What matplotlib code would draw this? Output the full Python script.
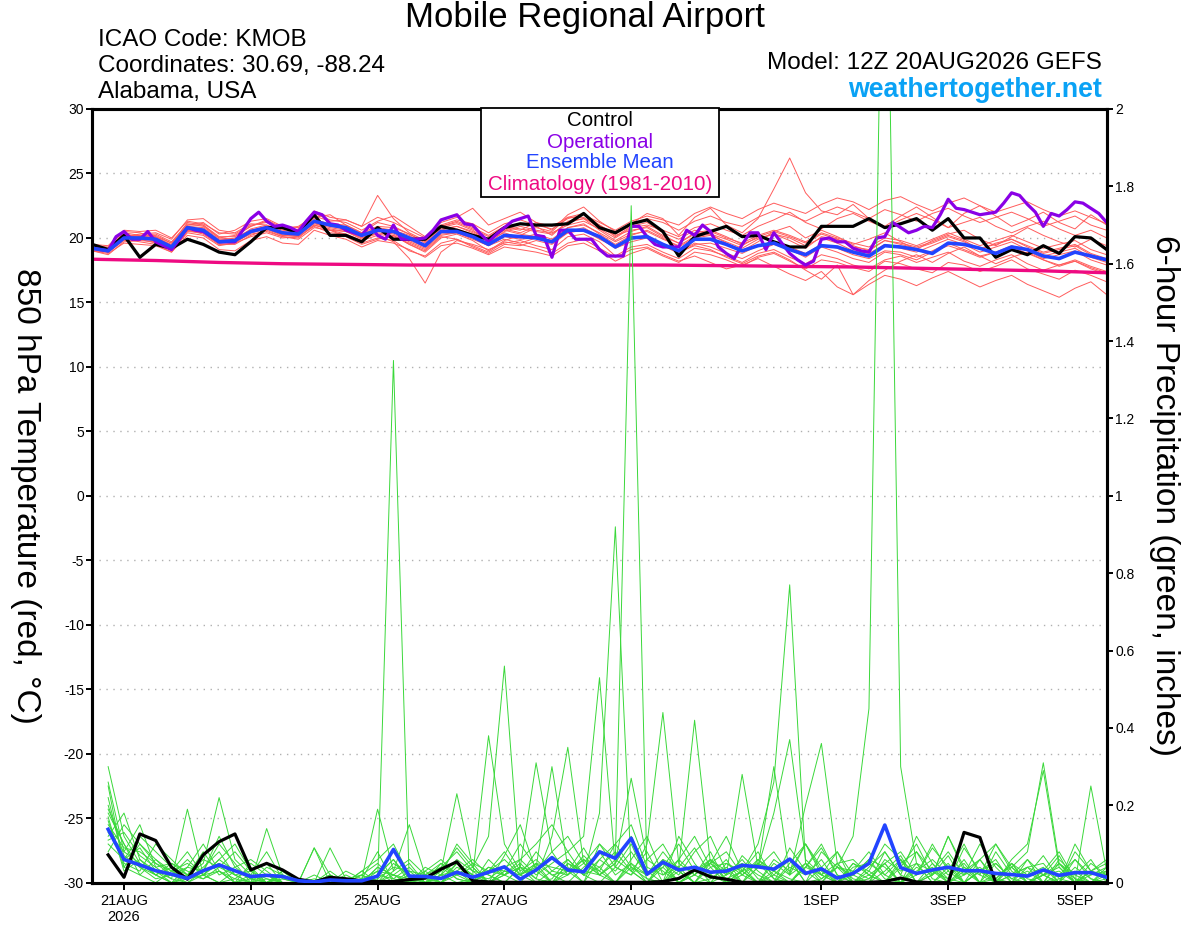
import matplotlib
matplotlib.use('Agg')
import matplotlib.pyplot as plt
from matplotlib.patches import Rectangle
import numpy as np

plt.rcParams['font.family'] = ['Liberation Sans', 'DejaVu Sans']
plt.rcParams['axes.unicode_minus'] = False

RED_M = '#ff5c5c'
GREEN_M = '#3ad83a'
PURPLE = '#8a00e6'
BLUE = '#2244ff'
PINK = '#ee0a82'
WEB = '#0aa2f5'

# ---- time axis (GEFS 12Z 20AUG2026 run, 6-hourly, op 3-hourly) ----
t0 = np.datetime64('2026-08-20T12:00')
t6 = t0 + np.arange(65) * np.timedelta64(6, 'h')
t3 = t0 + np.arange(129) * np.timedelta64(3, 'h')
t24 = t0 + np.arange(17) * np.timedelta64(24, 'h')

tick_dates = ['2026-08-21', '2026-08-23', '2026-08-25', '2026-08-27',
              '2026-08-29', '2026-09-01', '2026-09-03', '2026-09-05']
tick_labels = ['21AUG\n2026', '23AUG', '25AUG', '27AUG', '29AUG', '1SEP', '3SEP', '5SEP']

# ---- 850 hPa temperature (C) ----
t_control = [19.5, 19.1, 20.2, 18.5, 19.5, 19.2, 19.9, 19.5, 18.9, 18.7, 19.7, 20.8, 20.8,
             20.4, 21.8, 20.2, 20.2, 19.7, 20.8, 19.9, 19.9, 19.9, 20.9, 20.6, 20.2, 19.9,
             20.8, 21.1, 21.0, 21.0, 21.1, 21.9, 20.8, 20.4, 21.1, 21.4, 20.5, 18.6, 20.1,
             20.5, 20.9, 20.1, 20.2, 19.7, 19.3, 19.3, 20.9, 20.9, 20.9, 21.5, 20.8, 21.1,
             21.5, 20.6, 21.5, 20.0, 20.0, 18.5, 19.1, 18.7, 19.4, 18.8, 20.1, 20.0, 19.1]

t_mean = [19.2, 19.0, 20.0, 20.0, 19.9, 19.3, 20.8, 20.6, 19.7, 19.8, 20.5, 20.8, 20.4,
          20.3, 21.3, 21.0, 20.8, 20.2, 20.6, 20.5, 20.0, 19.4, 20.5, 20.5, 20.1, 19.5,
          20.2, 20.1, 20.0, 19.7, 20.6, 20.6, 20.1, 19.3, 20.0, 20.1, 19.5, 19.0, 19.9,
          19.9, 19.5, 19.0, 19.4, 19.6, 19.1, 18.7, 19.4, 19.3, 18.9, 18.6, 19.4, 19.3,
          19.1, 18.8, 19.6, 19.5, 19.2, 18.8, 19.3, 19.1, 18.6, 18.4, 18.9, 18.6, 18.3]

t_oper = [19.2, 19.1, 19.0, 20.1, 20.5, 19.9, 19.9, 20.5, 19.7, 19.4, 19.1, 19.9, 20.8,
          20.6, 20.5, 20.1, 19.7, 19.7, 19.7, 20.6, 21.5, 22.0, 21.3, 20.9, 21.0, 20.8,
          20.5, 21.3, 22.0, 21.8, 21.1, 21.0, 20.6, 20.4, 20.2, 21.0, 20.2, 19.9, 21.0,
          19.9, 19.9, 19.9, 20.0, 20.6, 21.4, 21.6, 21.8, 21.1, 21.0, 20.3, 19.7, 20.3,
          20.8, 21.3, 21.5, 21.7, 20.2, 20.1, 18.5, 20.6, 20.6, 19.9, 19.9, 19.9, 19.1,
          18.6, 18.6, 18.6, 20.9, 20.9, 20.1, 19.5, 19.3, 19.3, 19.3, 20.6, 20.2, 21.0,
          20.5, 19.3, 18.8, 18.4, 19.5, 20.4, 20.4, 19.1, 20.4, 19.6, 18.8, 18.3, 17.9,
          18.2, 19.9, 20.0, 19.7, 19.7, 19.2, 19.0, 18.9, 20.0, 20.1, 21.2, 20.8, 20.4,
          20.6, 20.9, 20.8, 21.8, 23.0, 22.3, 22.2, 22.0, 21.8, 21.9, 22.0, 22.7, 23.5,
          23.3, 22.6, 22.0, 20.9, 21.9, 21.7, 22.2, 22.8, 22.7, 22.3, 21.9, 21.2]

t_clim = [18.35, 18.25, 18.1, 18.0, 17.95, 17.9, 17.9, 17.9, 17.9, 17.9, 17.85, 17.8,
          17.75, 17.65, 17.55, 17.45, 17.3]

t_m01 = [19.3, 19.2, 20.3, 20.1, 20.2, 19.6, 21.0, 21.2, 20.3, 20.6, 21.3, 21.5, 20.9,
         20.8, 21.9, 21.4, 21.2, 20.6, 21.3, 21.7, 20.9, 20.1, 21.2, 21.6, 22.3, 21.0,
         21.5, 22.0, 21.2, 20.6, 21.8, 22.4, 21.3, 20.5, 21.1, 21.9, 21.5, 20.2, 21.6,
         22.3, 21.0, 20.4, 21.5, 23.8, 26.2, 23.5, 22.1, 21.8, 22.6, 21.5, 20.9, 21.7,
         22.4, 21.6, 20.8, 21.9, 22.5, 21.7, 20.9, 21.4, 22.0, 21.2, 20.7, 21.8, 21.0]
t_m02 = [19.0, 18.8, 19.6, 19.5, 19.4, 18.9, 20.2, 20.0, 19.1, 19.0, 19.8, 20.1, 19.6,
         19.5, 20.6, 20.2, 19.9, 19.3, 19.8, 19.6, 19.1, 18.5, 19.4, 19.6, 19.2, 18.7,
         19.3, 19.1, 18.9, 18.6, 19.4, 19.6, 19.0, 18.2, 18.8, 19.2, 18.6, 18.1, 18.9,
         18.7, 18.3, 17.8, 18.5, 18.8, 18.2, 17.6, 18.3, 18.1, 17.7, 17.4, 18.2, 18.0,
         17.6, 17.3, 18.1, 17.9, 17.4, 17.8, 18.3, 17.6, 17.2, 16.8, 17.5, 17.1, 16.6]
t_m03 = [19.4, 19.3, 20.5, 20.4, 20.0, 19.5, 21.2, 21.0, 20.0, 20.2, 20.9, 21.4, 20.8,
         20.5, 21.6, 21.8, 21.0, 20.4, 21.2, 20.9, 20.3, 19.6, 20.8, 21.1, 20.6, 19.8,
         20.7, 20.4, 20.9, 20.2, 21.3, 21.5, 20.6, 19.8, 20.5, 20.9, 20.2, 19.6, 20.4,
         20.6, 20.1, 19.5, 20.0, 20.3, 19.8, 19.2, 20.1, 19.9, 19.4, 19.0, 19.8, 19.6,
         19.3, 19.7, 20.2, 19.8, 19.1, 19.6, 19.9, 19.4, 18.9, 19.2, 19.5, 18.8, 18.4]
t_m04 = [19.1, 19.0, 20.1, 20.3, 20.4, 19.9, 21.4, 21.5, 20.6, 20.4, 21.1, 21.0, 20.2,
         20.6, 21.2, 20.6, 20.1, 19.5, 19.9, 20.2, 19.5, 18.9, 20.0, 20.3, 19.8, 19.0,
         19.8, 20.2, 20.8, 20.5, 21.6, 21.9, 21.0, 20.1, 20.9, 21.2, 20.4, 19.9, 20.6,
         20.3, 19.6, 19.0, 19.7, 20.5, 20.9, 20.0, 20.6, 20.1, 19.5, 19.9, 20.4, 19.7,
         19.1, 19.8, 20.3, 20.6, 19.9, 19.4, 20.1, 20.8, 20.2, 19.7, 19.3, 19.9, 19.4]
t_m05 = [19.2, 18.9, 19.8, 19.9, 19.6, 19.0, 20.4, 20.2, 19.4, 19.6, 20.1, 20.4, 20.0,
         20.1, 20.9, 20.4, 20.3, 19.8, 20.2, 19.7, 18.4, 16.5, 18.9, 19.8, 19.5, 19.1,
         19.6, 19.8, 19.4, 19.1, 20.1, 20.3, 19.7, 18.6, 19.3, 19.5, 18.9, 18.4, 19.2,
         19.0, 18.6, 18.1, 18.8, 19.1, 18.5, 18.0, 18.7, 18.4, 17.9, 17.6, 18.3, 18.6,
         18.1, 18.5, 18.9, 18.2, 17.8, 18.3, 18.7, 18.0, 17.5, 17.9, 18.2, 17.6, 17.2]
t_m06 = [19.3, 19.1, 20.2, 20.0, 20.1, 19.4, 20.9, 20.8, 19.9, 19.9, 20.7, 21.0, 20.6,
         20.4, 21.4, 21.1, 21.0, 20.4, 20.9, 20.8, 20.3, 19.7, 20.9, 21.3, 20.8, 20.2,
         20.9, 20.7, 20.5, 20.3, 21.2, 21.5, 21.0, 20.3, 21.0, 21.5, 21.2, 20.6, 21.3,
         21.7, 21.2, 20.9, 21.6, 22.1, 21.8, 21.3, 21.9, 22.4, 22.0, 21.5, 22.2, 21.8,
         21.3, 21.9, 22.3, 21.7, 21.2, 21.6, 22.0, 21.5, 20.9, 21.3, 21.7, 21.0, 20.6]
t_m07 = [19.0, 18.7, 19.7, 19.8, 19.7, 19.1, 20.6, 20.3, 19.5, 19.5, 20.2, 20.6, 20.1,
         20.0, 21.0, 20.7, 20.5, 19.9, 20.4, 20.2, 19.5, 19.0, 20.1, 19.9, 19.3, 18.8,
         19.5, 19.4, 19.8, 19.5, 20.4, 20.6, 19.9, 19.3, 19.9, 20.1, 19.5, 18.9, 19.6,
         19.3, 18.8, 18.4, 19.0, 19.5, 19.1, 18.5, 19.3, 18.9, 18.4, 18.1, 18.9, 18.7,
         18.3, 18.9, 19.4, 19.0, 18.5, 18.9, 19.3, 18.8, 18.3, 17.9, 18.3, 17.8, 17.4]
t_m08 = [19.5, 19.4, 20.6, 20.5, 20.6, 20.0, 21.3, 21.1, 20.4, 20.3, 21.0, 21.2, 20.7,
         20.9, 21.7, 21.3, 21.4, 20.9, 21.6, 21.2, 20.6, 20.0, 21.0, 21.4, 21.1, 20.4,
         21.1, 21.4, 21.0, 20.7, 21.5, 21.8, 21.2, 20.6, 21.3, 21.7, 21.4, 21.0, 21.9,
         22.4, 21.9, 21.5, 22.2, 22.7, 22.3, 21.9, 22.6, 23.1, 22.8, 22.2, 22.9, 23.2,
         22.6, 22.1, 22.7, 23.1, 22.5, 22.0, 22.4, 22.8, 22.2, 21.7, 22.1, 21.6, 21.1]
t_m09 = [19.2, 19.0, 19.9, 20.0, 19.8, 19.2, 20.7, 20.5, 19.6, 19.7, 20.3, 20.5, 20.1,
         19.9, 20.8, 20.6, 20.3, 19.6, 20.0, 19.8, 19.0, 18.6, 19.6, 19.9, 19.4, 18.9,
         19.7, 19.5, 19.2, 18.8, 19.6, 19.9, 19.2, 18.5, 19.1, 19.3, 18.7, 18.2, 18.6,
         18.1, 17.6, 17.9, 18.4, 17.8, 17.2, 16.7, 17.4, 16.2, 15.6, 16.4, 17.1, 16.8,
         16.3, 16.9, 17.4, 16.8, 16.2, 16.7, 17.1, 16.4, 15.9, 15.4, 16.1, 16.6, 15.6]
t_m10 = [19.3, 19.2, 20.1, 20.2, 20.3, 19.7, 21.1, 20.9, 20.0, 19.9, 20.6, 20.9, 20.5,
         20.3, 21.2, 20.9, 20.7, 20.2, 20.5, 20.4, 19.8, 19.3, 20.6, 20.9, 20.5, 19.9,
         20.4, 20.0, 20.3, 19.9, 20.8, 21.1, 20.3, 19.5, 20.2, 20.6, 20.0, 19.3, 20.0,
         20.2, 19.7, 19.2, 19.9, 20.3, 20.0, 19.4, 20.0, 19.6, 19.0, 18.8, 19.5, 19.2,
         18.9, 19.4, 19.9, 19.5, 18.9, 19.3, 19.7, 19.1, 18.6, 18.9, 19.2, 18.5, 18.1]
t_m11 = [19.1, 18.9, 19.9, 19.7, 19.5, 18.9, 20.5, 20.4, 19.5, 19.6, 20.4, 20.7, 20.2,
         20.2, 21.1, 20.8, 20.6, 20.0, 20.6, 20.3, 19.7, 19.2, 20.3, 20.4, 19.9, 19.4,
         20.1, 19.9, 20.0, 19.6, 20.5, 20.8, 20.1, 19.4, 20.0, 20.2, 19.5, 18.9, 19.4,
         19.1, 18.5, 18.0, 18.6, 18.9, 18.3, 17.5, 16.8, 17.9, 15.6, 16.7, 17.5, 18.2,
         18.7, 18.1, 18.8, 19.3, 18.6, 18.0, 18.5, 18.9, 18.3, 17.8, 18.2, 17.7, 17.3]
t_m12 = [19.4, 19.1, 20.4, 20.2, 19.9, 19.3, 20.8, 20.7, 19.8, 20.0, 20.6, 20.8, 20.3,
         20.7, 21.5, 21.0, 20.9, 20.3, 20.8, 20.6, 20.2, 19.4, 20.4, 20.7, 20.3, 19.6,
         20.5, 20.9, 20.6, 20.4, 21.0, 21.3, 20.7, 20.0, 20.8, 21.0, 20.6, 20.1, 20.8,
         21.1, 20.6, 20.2, 20.9, 21.4, 22.0, 21.2, 20.7, 21.5, 21.9, 21.3, 20.8, 21.4,
         21.9, 21.4, 20.8, 21.2, 21.6, 20.9, 20.4, 20.9, 21.3, 20.7, 20.2, 20.6, 20.0]
t_m13 = [19.0, 18.9, 19.9, 20.0, 20.0, 19.4, 20.6, 20.4, 19.6, 19.8, 20.4, 20.7, 20.2,
         20.1, 21.0, 20.6, 20.5, 20.0, 20.3, 20.1, 19.6, 19.1, 20.2, 20.4, 20.0, 19.4,
         19.9, 19.6, 20.0, 19.7, 20.4, 20.7, 20.0, 19.2, 19.7, 20.0, 19.4, 18.8, 19.5,
         19.6, 19.2, 18.8, 19.4, 19.7, 19.3, 18.8, 19.5, 19.2, 18.7, 18.4, 19.0, 18.9,
         18.5, 19.0, 19.6, 19.1, 18.6, 18.9, 19.4, 19.0, 18.4, 18.7, 19.0, 18.3, 17.9]
t_m14 = [19.2, 19.1, 20.0, 20.2, 20.1, 19.6, 21.0, 21.0, 20.1, 20.1, 20.9, 21.3, 20.7,
         20.6, 22.1, 21.6, 21.4, 20.9, 23.3, 21.5, 20.4, 19.8, 20.9, 21.2, 20.7, 20.1,
         20.8, 20.6, 21.2, 20.9, 21.6, 21.6, 20.8, 20.2, 20.6, 20.8, 20.1, 19.6, 20.3,
         20.5, 20.0, 19.6, 20.2, 20.6, 20.2, 19.7, 20.4, 20.0, 19.6, 19.3, 20.0, 19.8,
         19.4, 19.9, 20.4, 19.9, 19.4, 19.8, 20.2, 19.7, 19.2, 19.5, 19.8, 19.1, 18.7]
t_m15 = [19.3, 19.0, 20.0, 19.9, 19.8, 19.2, 20.7, 20.6, 19.7, 19.7, 20.5, 20.9, 20.4,
         20.2, 21.2, 21.0, 20.8, 20.2, 20.7, 20.5, 20.0, 19.5, 20.7, 20.9, 20.4, 19.8,
         20.6, 20.3, 20.1, 19.8, 20.8, 21.0, 20.4, 19.7, 20.3, 20.5, 19.9, 19.4, 20.1,
         20.3, 19.9, 19.4, 20.1, 20.5, 20.1, 19.6, 20.3, 19.9, 19.3, 19.1, 19.8, 19.5,
         19.2, 19.6, 20.1, 19.7, 19.2, 19.5, 19.9, 19.3, 18.8, 19.1, 19.4, 18.7, 18.3]
t_members = [t_m01, t_m02, t_m03, t_m04, t_m05, t_m06, t_m07, t_m08,
             t_m09, t_m10, t_m11, t_m12, t_m13, t_m14, t_m15]

# ---- 6-hour precipitation (inches), forecast hours 6..384 ----
p_control = [0.072, 0.014, 0.126, 0.109, 0.040, 0.009, 0.072, 0.106, 0.126, 0.033, 0.050, 0.033, 0.009, 0.002, 0.014, 0.010,
             0.005, 0.003, 0.003, 0.008, 0.012, 0.035, 0.054, 0.005, 0.002, 0.001, 0.001, 0.001, 0.001, 0.001, 0.001, 0.001,
             0.001, 0.001, 0.001, 0.003, 0.011, 0.033, 0.015, 0.009, 0.001, 0.001, 0.001, 0.001, 0.001, 0.001, 0.001, 0.001,
             0.001, 0.003, 0.012, 0.002, 0.000, 0.000, 0.130, 0.117, 0.000, 0.000, 0.000, 0.000, 0.000, 0.000, 0.000, 0.000]
p_mean = [0.138, 0.060, 0.046, 0.031, 0.022, 0.011, 0.031, 0.046, 0.031, 0.016, 0.019, 0.016, 0.005, 0.002, 0.007, 0.005,
          0.005, 0.017, 0.086, 0.017, 0.016, 0.011, 0.027, 0.014, 0.027, 0.041, 0.009, 0.033, 0.065, 0.033, 0.028, 0.080,
          0.063, 0.115, 0.022, 0.053, 0.033, 0.040, 0.027, 0.030, 0.045, 0.041, 0.035, 0.061, 0.024, 0.036, 0.012, 0.024,
          0.050, 0.149, 0.039, 0.024, 0.033, 0.040, 0.031, 0.031, 0.024, 0.021, 0.017, 0.033, 0.019, 0.026, 0.026, 0.014]

p_m01 = [0.30, 0.12, 0.05, 0.02, 0.00, 0.01, 0.04, 0.08, 0.02, 0.00, 0.01, 0.00, 0.00, 0.00, 0.00, 0.00,
         0.00, 0.00, 1.35, 0.00, 0.02, 0.05, 0.01, 0.00, 0.03, 0.08, 0.02, 0.00, 0.01, 0.06, 0.02, 0.00,
         0.04, 0.10, 0.01, 0.00, 0.03, 0.00, 0.05, 0.12, 0.03, 0.00, 0.02, 0.06, 0.00, 0.01, 0.04, 0.00,
         0.00, 0.08, 0.02, 0.00, 0.05, 0.01, 0.00, 0.03, 0.00, 0.02, 0.06, 0.00, 0.01, 0.03, 0.00, 0.02]
p_m02 = [0.26, 0.08, 0.15, 0.04, 0.01, 0.00, 0.02, 0.06, 0.10, 0.03, 0.00, 0.02, 0.00, 0.00, 0.01, 0.00,
         0.00, 0.02, 0.06, 0.01, 0.00, 0.03, 0.09, 0.04, 0.00, 0.07, 0.15, 0.03, 0.08, 0.12, 0.05, 0.10,
         0.06, 1.75, 0.02, 0.04, 0.00, 0.02, 0.06, 0.00, 0.03, 0.08, 0.01, 0.00, 0.04, 0.10, 0.02, 0.00,
         0.01, 0.05, 0.00, 0.02, 0.10, 0.03, 0.00, 0.06, 0.01, 0.00, 0.04, 0.02, 0.00, 0.08, 0.03, 0.01]
p_m03 = [0.22, 0.05, 0.03, 0.10, 0.06, 0.02, 0.01, 0.03, 0.00, 0.05, 0.02, 0.00, 0.00, 0.09, 0.02, 0.00,
         0.01, 0.03, 0.00, 0.02, 0.00, 0.01, 0.05, 0.02, 0.00, 0.03, 0.10, 0.04, 0.00, 0.05, 0.02, 0.18,
         0.92, 0.03, 0.08, 0.00, 0.12, 0.05, 0.00, 0.02, 0.06, 0.01, 0.00, 0.09, 0.03, 0.00, 0.05, 0.01,
         0.00, 0.03, 0.07, 0.00, 0.02, 0.12, 0.04, 0.00, 0.01, 0.05, 0.00, 0.03, 0.08, 0.01, 0.00, 0.04]
p_m04 = [0.18, 0.10, 0.02, 0.00, 0.03, 0.08, 0.02, 0.00, 0.01, 0.00, 0.04, 0.02, 0.00, 0.00, 0.00, 0.01,
         0.00, 0.04, 0.02, 0.00, 0.01, 0.00, 0.03, 0.06, 0.02, 0.00, 0.04, 0.01, 0.00, 0.02, 0.07, 0.03,
         0.00, 0.05, 0.02, 0.08, 0.03, 0.00, 0.01, 0.04, 0.00, 0.06, 0.02, 0.00, 0.05, 0.01, 0.04, 0.12,
         0.45, 2.90, 0.30, 0.05, 0.00, 0.03, 0.10, 0.02, 0.00, 0.04, 0.01, 0.00, 0.06, 0.02, 0.00, 0.01]
p_m05 = [0.15, 0.09, 0.08, 0.05, 0.02, 0.00, 0.03, 0.05, 0.00, 0.02, 0.08, 0.01, 0.00, 0.00, 0.02, 0.00,
         0.00, 0.01, 0.04, 0.03, 0.00, 0.02, 0.00, 0.01, 0.04, 0.02, 0.00, 0.05, 0.02, 0.03, 0.09, 0.02,
         0.00, 0.04, 0.01, 0.00, 0.06, 0.02, 0.00, 0.05, 0.03, 0.10, 0.26, 0.77, 0.05, 0.02, 0.08, 0.00,
         0.03, 0.10, 0.06, 0.00, 0.02, 0.12, 0.03, 0.00, 0.05, 0.01, 0.00, 0.02, 0.07, 0.00, 0.03, 0.05]
p_m06 = [0.12, 0.18, 0.06, 0.03, 0.01, 0.19, 0.02, 0.00, 0.03, 0.01, 0.00, 0.02, 0.00, 0.00, 0.00, 0.01,
         0.02, 0.00, 0.05, 0.02, 0.01, 0.03, 0.23, 0.04, 0.12, 0.56, 0.02, 0.05, 0.00, 0.03, 0.06, 0.02,
         0.05, 0.12, 0.03, 0.00, 0.04, 0.09, 0.02, 0.00, 0.07, 0.03, 0.00, 0.04, 0.02, 0.06, 0.00, 0.03,
         0.01, 0.05, 0.00, 0.08, 0.03, 0.00, 0.02, 0.10, 0.04, 0.00, 0.06, 0.02, 0.00, 0.04, 0.01, 0.00]
p_m07 = [0.10, 0.06, 0.12, 0.08, 0.04, 0.02, 0.05, 0.22, 0.06, 0.02, 0.00, 0.03, 0.00, 0.00, 0.09, 0.01,
         0.00, 0.03, 0.02, 0.00, 0.01, 0.04, 0.01, 0.00, 0.03, 0.02, 0.06, 0.10, 0.15, 0.08, 0.12, 0.53,
         0.04, 0.02, 0.10, 0.44, 0.05, 0.02, 0.08, 0.00, 0.03, 0.05, 0.01, 0.00, 0.04, 0.02, 0.05, 0.00,
         0.02, 0.00, 0.05, 0.08, 0.01, 0.00, 0.04, 0.02, 0.10, 0.03, 0.00, 0.02, 0.05, 0.01, 0.00, 0.03]
p_m08 = [0.20, 0.07, 0.04, 0.02, 0.05, 0.03, 0.01, 0.04, 0.02, 0.00, 0.14, 0.02, 0.00, 0.00, 0.00, 0.03,
         0.01, 0.19, 0.03, 0.15, 0.02, 0.00, 0.04, 0.02, 0.38, 0.10, 0.03, 0.06, 0.02, 0.00, 0.04, 0.08,
         0.02, 0.05, 0.00, 0.06, 0.04, 0.42, 0.05, 0.01, 0.03, 0.00, 0.05, 0.02, 0.10, 0.04, 0.00, 0.02,
         0.06, 0.01, 0.00, 0.04, 0.02, 0.07, 0.00, 0.03, 0.05, 0.01, 0.03, 0.00, 0.02, 0.06, 0.01, 0.00]
p_m09 = [0.08, 0.15, 0.10, 0.06, 0.02, 0.04, 0.10, 0.03, 0.00, 0.01, 0.02, 0.00, 0.00, 0.00, 0.01, 0.00,
         0.02, 0.00, 0.03, 0.06, 0.02, 0.04, 0.08, 0.03, 0.00, 0.02, 0.05, 0.01, 0.12, 0.35, 0.05, 0.02,
         0.06, 0.03, 0.00, 0.05, 0.02, 0.08, 0.12, 0.03, 0.00, 0.04, 0.18, 0.37, 0.06, 0.02, 0.00, 0.05,
         0.03, 0.00, 0.06, 0.02, 0.09, 0.04, 0.00, 0.03, 0.01, 0.05, 0.00, 0.02, 0.04, 0.00, 0.03, 0.02]
p_m10 = [0.25, 0.04, 0.02, 0.06, 0.03, 0.05, 0.02, 0.06, 0.03, 0.02, 0.00, 0.01, 0.00, 0.00, 0.03, 0.00,
         0.00, 0.02, 0.01, 0.04, 0.00, 0.02, 0.06, 0.03, 0.02, 0.00, 0.04, 0.31, 0.08, 0.02, 0.05, 0.03,
         0.10, 0.04, 0.02, 0.05, 0.00, 0.03, 0.06, 0.02, 0.28, 0.04, 0.30, 0.02, 0.05, 0.00, 0.04, 0.03,
         0.08, 0.02, 0.00, 0.05, 0.03, 0.01, 0.06, 0.00, 0.02, 0.04, 0.08, 0.31, 0.05, 0.00, 0.02, 0.04]
p_m11 = [0.14, 0.06, 0.09, 0.03, 0.00, 0.02, 0.06, 0.04, 0.08, 0.03, 0.01, 0.00, 0.00, 0.02, 0.00, 0.00,
         0.03, 0.06, 0.10, 0.02, 0.00, 0.05, 0.02, 0.04, 0.00, 0.03, 0.02, 0.08, 0.03, 0.06, 0.02, 0.04,
         0.08, 0.03, 0.00, 0.04, 0.10, 0.03, 0.02, 0.06, 0.00, 0.04, 0.08, 0.02, 0.20, 0.36, 0.05, 0.06,
         0.02, 0.05, 0.08, 0.02, 0.04, 0.00, 0.09, 0.03, 0.00, 0.05, 0.02, 0.07, 0.01, 0.00, 0.25, 0.03]
p_m12 = [0.17, 0.03, 0.06, 0.02, 0.04, 0.01, 0.03, 0.10, 0.05, 0.00, 0.02, 0.00, 0.00, 0.00, 0.00, 0.02,
         0.00, 0.04, 0.02, 0.01, 0.03, 0.00, 0.02, 0.05, 0.03, 0.06, 0.02, 0.04, 0.30, 0.04, 0.00, 0.06,
         0.03, 0.08, 0.02, 0.06, 0.00, 0.03, 0.05, 0.02, 0.04, 0.00, 0.06, 0.03, 0.10, 0.02, 0.00, 0.04,
         0.05, 0.02, 0.06, 0.00, 0.03, 0.08, 0.02, 0.04, 0.00, 0.06, 0.10, 0.29, 0.04, 0.00, 0.03, 0.06]
p_m13 = [0.19, 0.10, 0.04, 0.01, 0.02, 0.06, 0.02, 0.03, 0.01, 0.04, 0.00, 0.02, 0.00, 0.00, 0.00, 0.00,
         0.01, 0.08, 0.00, 0.03, 0.02, 0.00, 0.05, 0.02, 0.01, 0.04, 0.06, 0.02, 0.05, 0.08, 0.02, 0.06,
         0.10, 0.15, 0.04, 0.02, 0.06, 0.12, 0.04, 0.00, 0.02, 0.05, 0.03, 0.00, 0.04, 0.09, 0.02, 0.00,
         0.04, 0.08, 0.02, 0.12, 0.05, 0.00, 0.03, 0.06, 0.00, 0.02, 0.04, 0.05, 0.00, 0.10, 0.03, 0.01]
p_m14 = [0.11, 0.13, 0.07, 0.04, 0.05, 0.02, 0.08, 0.02, 0.04, 0.06, 0.03, 0.00, 0.00, 0.01, 0.00, 0.00,
         0.03, 0.00, 0.02, 0.05, 0.00, 0.02, 0.03, 0.00, 0.06, 0.02, 0.04, 0.03, 0.00, 0.05, 0.03, 0.02,
         0.05, 0.27, 0.06, 0.03, 0.00, 0.02, 0.05, 0.08, 0.02, 0.00, 0.03, 0.06, 0.00, 0.04, 0.08, 0.02,
         0.06, 0.04, 0.00, 0.03, 0.06, 0.02, 0.05, 0.00, 0.08, 0.02, 0.04, 0.00, 0.05, 0.02, 0.06, 0.00]
p_m15 = [0.13, 0.08, 0.05, 0.02, 0.00, 0.04, 0.03, 0.12, 0.04, 0.01, 0.00, 0.03, 0.00, 0.09, 0.00, 0.00,
         0.02, 0.05, 0.01, 0.00, 0.04, 0.02, 0.10, 0.05, 0.00, 0.02, 0.04, 0.00, 0.03, 0.02, 0.06, 0.04,
         0.00, 0.06, 0.12, 0.02, 0.04, 0.00, 0.06, 0.03, 0.05, 0.02, 0.00, 0.05, 0.10, 0.03, 0.00, 0.05,
         0.02, 0.00, 0.04, 0.10, 0.02, 0.05, 0.00, 0.03, 0.06, 0.00, 0.02, 0.04, 0.00, 0.06, 0.02, 0.03]
p_m16 = [0.16, 0.04, 0.10, 0.05, 0.03, 0.01, 0.02, 0.05, 0.02, 0.03, 0.05, 0.00, 0.00, 0.00, 0.02, 0.00,
         0.00, 0.02, 0.06, 0.00, 0.03, 0.06, 0.02, 0.00, 0.04, 0.03, 0.02, 0.05, 0.04, 0.03, 0.00, 0.10,
         0.04, 0.02, 0.06, 0.10, 0.03, 0.00, 0.04, 0.05, 0.02, 0.06, 0.03, 0.01, 0.00, 0.08, 0.04, 0.02,
         0.00, 0.06, 0.03, 0.05, 0.00, 0.04, 0.02, 0.06, 0.10, 0.04, 0.00, 0.02, 0.03, 0.00, 0.05, 0.02]
p_members = [p_m01, p_m02, p_m03, p_m04, p_m05, p_m06, p_m07, p_m08,
             p_m09, p_m10, p_m11, p_m12, p_m13, p_m14, p_m15, p_m16]

# ═══════════════════════════════════════════
W, H = 1200, 927
fig = plt.figure(figsize=(W / 100, H / 100), dpi=100)
ax = fig.add_axes([92.3 / W, 1 - 882.7 / H, (1106.7 - 92.3) / W, (882.7 - 109) / H])
ax2 = ax.twinx()

tp = t6[1:]

# temperature side
for m in t_members:
    ax.plot(t6[:len(m)], m, color=RED_M, lw=0.7, zorder=2)
ax.plot(t24, t_clim, color=PINK, lw=2.4, zorder=3)
ax.plot(t6, t_control, color='black', lw=2.3, zorder=5)
ax.plot(t3[:len(t_oper)], t_oper, color=PURPLE, lw=2.3, zorder=6)
ax.plot(t6, t_mean, color=BLUE, lw=2.6, zorder=7)

for yv in range(-25, 30, 5):
    ax.axhline(yv, color='#b0b0b0', lw=1.0, ls=(0, (1, 4)), zorder=1)

# precipitation side
for m in p_members:
    ax2.plot(tp[:len(m)], m, color=GREEN_M, lw=0.7, zorder=2)
ax2.plot(tp, p_control, color='black', lw=2.3, zorder=4)
ax2.plot(tp, p_mean, color=BLUE, lw=2.6, zorder=5)

ax.set_ylim(-30, 30)
ax.set_yticks(range(-30, 31, 5))
ax2.set_ylim(0, 2)
ax2.set_yticks([0, 0.2, 0.4, 0.6, 0.8, 1.0, 1.2, 1.4, 1.6, 1.8, 2.0])
ax2.set_yticklabels(['0', '0.2', '0.4', '0.6', '0.8', '1', '1.2', '1.4', '1.6', '1.8', '2'])
ax.set_xlim(t6[0], t6[-1])
ax.set_xticks(np.array(tick_dates, dtype='datetime64[m]'))
ax.set_xticklabels(tick_labels)

for a in (ax, ax2):
    for s in a.spines.values():
        s.set_linewidth(2.2)
ax.tick_params(axis='y', direction='out', length=4, width=1.4, labelsize=10, pad=2)
ax.tick_params(axis='x', direction='out', length=5, width=1.4, labelsize=10.5, pad=3)
ax2.tick_params(axis='y', direction='out', length=4, width=1.4, labelsize=10, pad=2)

ax.set_ylabel('850 hPa Temperature (red, \u00b0C)', fontsize=24, rotation=270, labelpad=0)
ax.yaxis.set_label_coords(-0.0816, 0.5)
ax2.set_ylabel('6-hour Precipitation (green, inches)', fontsize=24, rotation=270, labelpad=0)
ax2.yaxis.set_label_coords(1.0723, 0.5)

# header
fig.text(585 / W, 1 - 18 / H, 'Mobile Regional Airport', fontsize=25, ha='center', va='center')
fig.text(98 / W, 1 - 40 / H, 'ICAO Code: KMOB', fontsize=17.5, ha='left', va='center')
fig.text(98 / W, 1 - 66 / H, 'Coordinates: 30.69, -88.24', fontsize=17.5, ha='left', va='center')
fig.text(98 / W, 1 - 92 / H, 'Alabama, USA', fontsize=17.5, ha='left', va='center')
fig.text(1102 / W, 1 - 63 / H, 'Model: 12Z 20AUG2026 GEFS', fontsize=17.5, ha='right', va='center')
fig.text(1102 / W, 1 - 90 / H, 'weathertogether.net', fontsize=19.3, fontweight='bold',
         color=WEB, ha='right', va='center')

# legend box
fig.patches.append(Rectangle((481 / W, 1 - 197 / H), (719 - 481) / W, (197 - 108) / H,
                             transform=fig.transFigure, facecolor='white', edgecolor='black',
                             lw=1.3, zorder=10))
leg = [('Control', 'black', 121), ('Operational', PURPLE, 142),
       ('Ensemble Mean', BLUE, 163), ('Climatology (1981-2010)', PINK, 185)]
for txt, col, yy in leg:
    fig.text(600 / W, 1 - yy / H, txt, fontsize=14.8, color=col, ha='center', va='center', zorder=11)

fig.savefig('out.png', dpi=100)
